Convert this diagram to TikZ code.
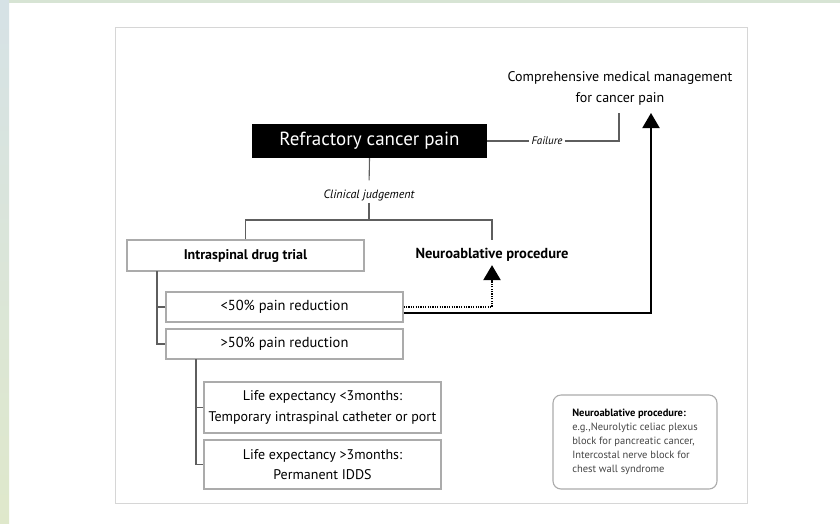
\documentclass[tikz,border=0pt]{standalone}
\usepackage{fontspec}
\setmainfont{PT Sans}
\usetikzlibrary{arrows.meta}

\definecolor{framegray}{HTML}{D6D6D6}
\definecolor{boxgray}{HTML}{ABABAB}
\definecolor{linegray}{HTML}{5E5E5E}
\definecolor{notegray}{HTML}{454545}
\definecolor{stripblue}{HTML}{D6E2E6}
\definecolor{stripgreen}{HTML}{DFE8CB}
\definecolor{topgreen}{HTML}{D7E4D4}

\tikzset{
  box/.style={draw=boxgray, line width=1.1pt, minimum width=237pt, inner sep=0pt,
    align=center, font=\fontsize{14.5}{20.5}\selectfont},
  link/.style={draw=linegray, line width=1.1pt},
  tag/.style={font=\fontsize{12}{14}\selectfont\itshape, inner sep=2pt},
  dotarrow/.style={line width=2.4pt, dash pattern=on 1.2pt off 1.2pt,
    -{Triangle[width=17pt,length=15pt]}},
  bigarrow/.style={line width=2pt, -{Triangle[width=17pt,length=15pt]}}
}

\begin{document}
\begin{tikzpicture}[x=1pt,y=-1pt]
\useasboundingbox (0,0) rectangle (840,523);
\fill[white] (0,0) rectangle (840,523);
\shade[top color=stripblue, bottom color=stripgreen] (0,0) rectangle (9,523);
\fill[topgreen] (9,0) rectangle (840,3);
\draw[framegray, line width=1pt] (115,27) rectangle (747,503);

% top part
\node [fill=black, text=white, minimum width=235pt, minimum height=34pt, inner sep=0pt,
  font=\fontsize{19}{21}\selectfont] (pain) at (369.5,141) {Refractory cancer pain};
\node [align=center, font=\fontsize{14}{21}\selectfont] (comp) at (620,88)
  {Comprehensive medical management\\for cancer pain};
\node [tag, font=\fontsize{11}{13}\selectfont\itshape] (fail) at (547,141) {Failure};
\node [tag] (judge) at (369,195) {Clinical judgement};
\coordinate (split) at (369,220);
\coordinate (cf) at (619,113);
\coordinate (up) at (651,113);

% branches
\node [box, minimum height=31pt, font=\fontsize{14}{17}\selectfont\bfseries] (trial) at (245.5,255.5) {Intraspinal drug trial};
\node [font=\fontsize{14.5}{17}\selectfont\bfseries] (neuro) at (492,255) {Neuroablative procedure};
\coordinate (nt) at (492,240);
\node [box, minimum height=30pt] (less) at (284.5,307) {<50\% pain reduction};
\node [box, minimum height=30pt] (more) at (284.5,344) {>50\% pain reduction};
\coordinate (tl) at (157,271);
\node [box, minimum height=51pt, font=\fontsize{14}{20.5}\selectfont] (short) at (322.5,407.5) {Life expectancy <3months:\\Temporary intraspinal catheter or port};
\node [box, minimum height=49pt, font=\fontsize{14}{20.5}\selectfont] (long) at (322.5,464.5) {Life expectancy >3months:\\Permanent IDDS};
\coordinate (ml) at (196,359);

% note
\node [draw=boxgray, line width=1.1pt, rounded corners=8pt, minimum width=164pt, minimum height=94pt,
  align=left, text=notegray, font=\fontsize{10.5}{14}\selectfont] (info) at (635,442)
  {\textcolor{black}{\textbf{Neuroablative procedure:}}\\e.g.,Neurolytic celiac plexus\\block for pancreatic cancer,\\Intercostal nerve block for\\chest wall syndrome};

% connectors
\draw [link, shorten >=7pt] (pain.south) -- (judge.north);
\draw [link] (judge.south) -- (split);
\draw [link] (trial.north) |- (split) -| (nt);
\draw [link] (pain.east) -- (fail.west);
\draw [link] (fail.east) -| (cf);
\draw [link] (tl) |- (more.west);
\draw [link] (less.west) -- (less.west -| tl);
\draw [link] (ml) |- (long.west);
\draw [link] (short.west) -- (short.west -| ml);
\draw [dotarrow] (less.east) -| (neuro.south);
\draw [bigarrow] ([yshift=-6pt]less.east) -| (up);
\end{tikzpicture}
\end{document}
